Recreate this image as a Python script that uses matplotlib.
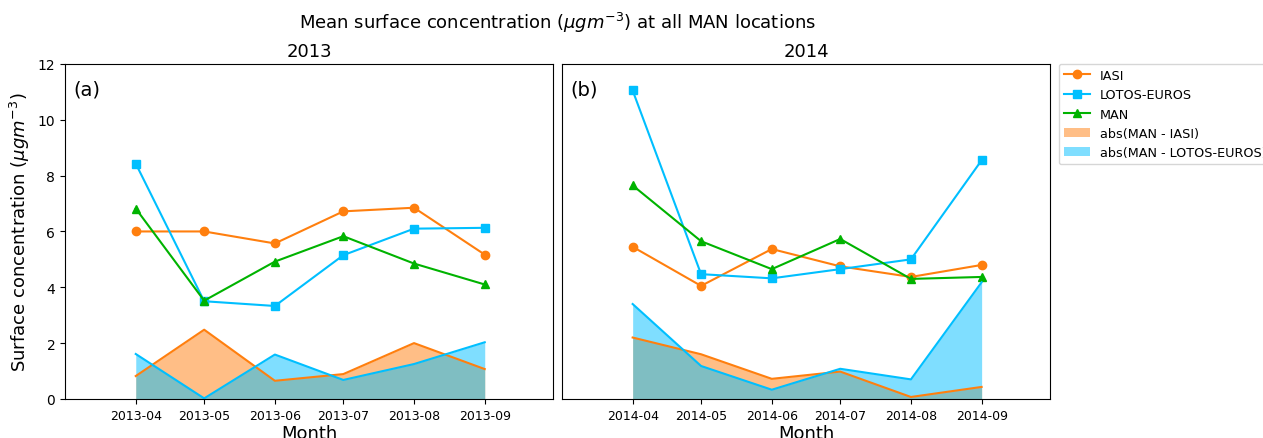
import datetime as dt
import numpy as np
import matplotlib
matplotlib.use('Agg')
import matplotlib.pyplot as plt
import matplotlib.dates as mdates

months_2013 = ['2013-04', '2013-05', '2013-06', '2013-07', '2013-08', '2013-09']
months_2014 = ['2014-04', '2014-05', '2014-06', '2014-07', '2014-08', '2014-09']

iasi_2013 = [6.00, 6.00, 5.57, 6.72, 6.85, 5.17]
lotos_2013 = [8.43, 3.50, 3.33, 5.15, 6.10, 6.13]
man_2013 = [6.82, 3.52, 4.92, 5.83, 4.85, 4.10]

iasi_2014 = [5.45, 4.05, 5.37, 4.75, 4.37, 4.80]
lotos_2014 = [11.05, 4.47, 4.32, 4.65, 5.00, 8.55]
man_2014 = [7.65, 5.65, 4.65, 5.73, 4.30, 4.37]

C_IASI = '#ff7f0e'
C_LOTOS = '#00bfff'
C_MAN = '#00b300'


def panel(ax, months, iasi, lotos, man, year, tag):
    x = [dt.datetime.strptime(m, '%Y-%m') for m in months]
    iasi = np.array(iasi)
    lotos = np.array(lotos)
    man = np.array(man)
    ax.plot(x, iasi, '-o', color=C_IASI, ms=6, lw=1.5, label='IASI')
    ax.plot(x, lotos, '-s', color=C_LOTOS, ms=6, lw=1.5, label='LOTOS-EUROS')
    ax.plot(x, man, '-^', color=C_MAN, ms=6, lw=1.5, label='MAN')
    d_iasi = np.abs(man - iasi)
    d_lotos = np.abs(man - lotos)
    ax.fill_between(x, 0, d_iasi, color=C_IASI, alpha=0.5, lw=0,
                    label='abs(MAN - IASI)')
    ax.fill_between(x, 0, d_lotos, color=C_LOTOS, alpha=0.5, lw=0,
                    label='abs(MAN - LOTOS-EUROS)')
    ax.plot(x, d_iasi, '-', color=C_IASI, lw=1.5)
    ax.plot(x, d_lotos, '-', color=C_LOTOS, lw=1.5)
    ax.set_xticks(x)
    ax.xaxis.set_major_formatter(mdates.DateFormatter('%Y-%m'))
    ax.set_xlim(dt.datetime(year, 3, 1), dt.datetime(year, 10, 1))
    ax.set_ylim(0, 12)
    ax.set_title(str(year), fontsize=13)
    ax.set_xlabel('Month', fontsize=13, labelpad=2)
    ax.tick_params(axis='x', labelsize=9)
    ax.text(0.018, 0.955, tag, transform=ax.transAxes, fontsize=14,
            va='top', ha='left')


fig, (ax1, ax2) = plt.subplots(1, 2, sharey=True, figsize=(12.63, 4.39))
fig.subplots_adjust(left=0.0515, right=0.8314, bottom=0.089, top=0.852,
                    wspace=0.018)

panel(ax1, months_2013, iasi_2013, lotos_2013, man_2013, 2013, '(a)')
panel(ax2, months_2014, iasi_2014, lotos_2014, man_2014, 2014, '(b)')

ax1.set_ylabel(r'Surface concentration ($\mu g m^{-3}$)', fontsize=13)
ax1.tick_params(axis='y', labelsize=10)
ax2.tick_params(axis='y', left=False, labelleft=False)

ax2.legend(loc='upper left', bbox_to_anchor=(1.005, 1.02), fontsize=9.2)
fig.suptitle(r'Mean surface concentration ($\mu g m^{-3}$) at all MAN locations',
             fontsize=13, x=0.441, y=0.975)

fig.savefig('out.png', dpi=100)
